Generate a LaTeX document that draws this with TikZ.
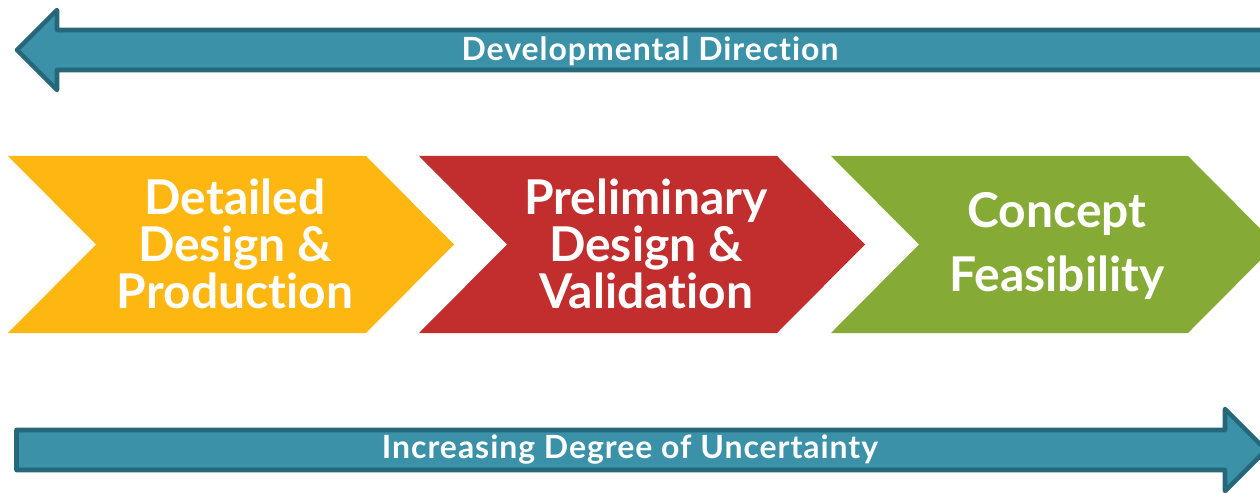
\documentclass[tikz,border=0pt]{standalone}
\usepackage{fontspec}
\setmainfont{Lato}[Ligatures=NoCommon]
\newfontfamily\barfont{Lato}[Ligatures=NoCommon,LetterSpace=3]
\definecolor{tealfill}{RGB}{58,145,168}
\definecolor{tealline}{RGB}{38,104,121}
\definecolor{cyellow}{RGB}{253,183,16}
\definecolor{cred}{RGB}{194,45,46}
\definecolor{cgreen}{RGB}{134,170,54}
\begin{document}
\begin{tikzpicture}[x=0.02cm,y=-0.02cm,
  bararrow/.style={fill=tealfill,draw=tealline,line width=2.6pt,line join=round},
  barlabel/.style={text=white,font=\barfont\fontsize{18.2}{20}\selectfont\bfseries,inner sep=0pt,anchor=base},
  chevlabel/.style={text=white,align=center,font=\fontsize{27.3}{26.8}\selectfont\bfseries,inner sep=0pt}]
\useasboundingbox (0,0) rectangle (1260,493);
% top arrow (pointing left)
\draw[bararrow] (1275,30) -- (57,30) -- (57,10) -- (17,50) -- (57,90) -- (57,70) -- (1275,70) -- cycle;
\node[barlabel] (dev) at (650,61) {Developmental Direction};
% chevrons
\fill[cyellow] (8,156) -- (366,156) -- (454,244.5) -- (366,333) -- (8,333) -- (96,244.5) -- cycle;
\fill[cred] (419,156) -- (777,156) -- (865,244.5) -- (777,333) -- (419,333) -- (507,244.5) -- cycle;
\fill[cgreen] (831,156) -- (1188,156) -- (1276,244.5) -- (1188,333) -- (831,333) -- (919,244.5) -- cycle;
\node[chevlabel] (detailed) at (235,244) {Detailed\\Design \&\\Production};
\node[chevlabel] (prelim) at (646,244) {Preliminary\\Design \&\\Validation};
\node[chevlabel] (concept) at (1057,246) {Concept\\[10pt]Feasibility};
% bottom arrow (pointing right)
\draw[bararrow] (16.5,430) -- (1225,430) -- (1225,409) -- (1266,450) -- (1225,491) -- (1225,470) -- (16.5,470) -- cycle;
\node[barlabel] (unc) at (630,458) {Increasing Degree of Uncertainty};
\end{tikzpicture}
\end{document}
